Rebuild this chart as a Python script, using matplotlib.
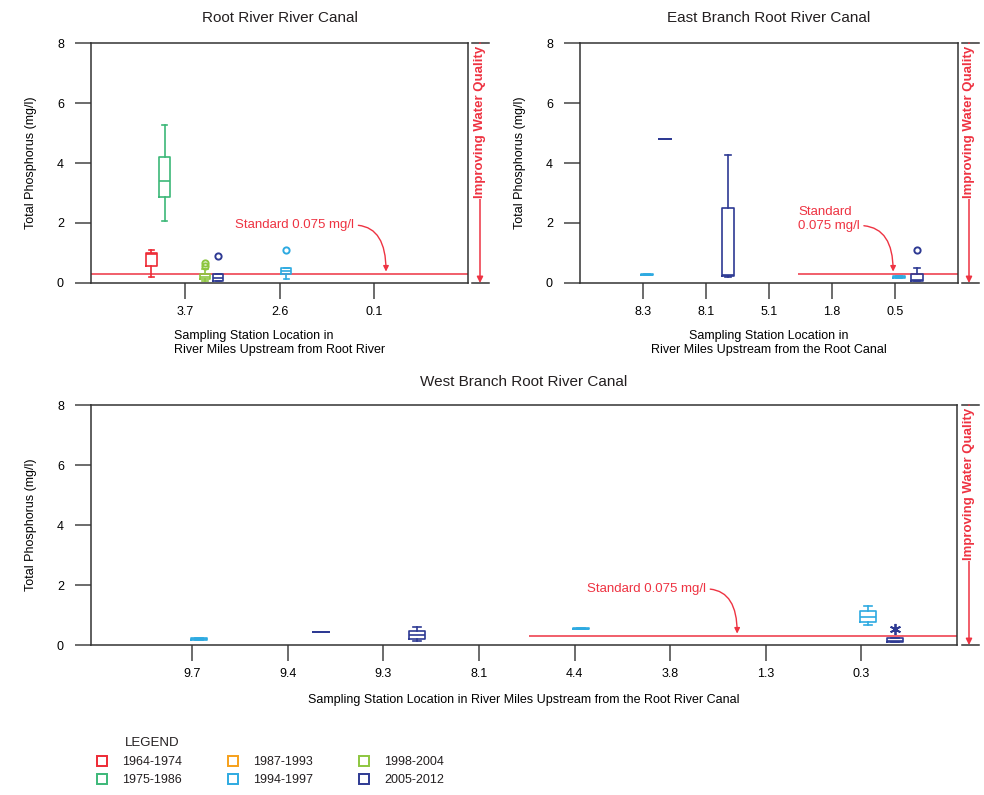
import matplotlib
matplotlib.use("Agg")
import matplotlib.pyplot as plt
from matplotlib.lines import Line2D

plt.rcParams['font.family'] = ['Liberation Sans', 'DejaVu Sans']
plt.rcParams['text.color'] = '#231f20'

# sampling periods and their colours
periods = ['1964-1974', '1975-1986', '1987-1993', '1994-1997', '1998-2004', '2005-2012']
period_colors = ['#ee2a35', '#3cb878', '#f6a01a', '#2eaae1', '#8dc63f', '#2e3a93']

standard_value = 0.3   # drawn position of the 0.075 mg/l standard line

# box rows: (station index, period index, whislo, q1, median, q3, whishi, outliers, far outliers)
rr_stations = ['3.7', '2.6', '0.1']
rr_stats = [
    (0, 0, 0.20, 0.57, 0.95, 1.00, 1.10, [], []),
    (0, 1, 2.07, 2.87, 3.40, 4.20, 5.27, [], []),
    (0, 4, 0.08, 0.12, 0.20, 0.30, 0.45, [0.55, 0.65], []),
    (0, 5, 0.05, 0.07, 0.17, 0.30, 0.30, [0.90], []),
    (1, 3, 0.13, 0.30, 0.40, 0.49, 0.49, [1.10], []),
]

eb_stations = ['8.3', '8.1', '5.1', '1.8', '0.5']
eb_stats = [
    (0, 3, 0.27, 0.27, 0.28, 0.30, 0.30, [], []),
    (0, 5, 4.80, 4.80, 4.80, 4.80, 4.80, [], []),
    (1, 5, 0.20, 0.22, 0.25, 2.50, 4.27, [], []),
    (4, 3, 0.18, 0.18, 0.20, 0.22, 0.22, [], []),
    (4, 5, 0.05, 0.07, 0.10, 0.30, 0.50, [1.10], []),
]

wb_stations = ['9.7', '9.4', '9.3', '8.1', '4.4', '3.8', '1.3', '0.3']
wb_stats = [
    (0, 3, 0.17, 0.18, 0.20, 0.22, 0.24, [], []),
    (1, 5, 0.45, 0.45, 0.45, 0.45, 0.45, [], []),
    (2, 5, 0.13, 0.20, 0.33, 0.47, 0.60, [], []),
    (4, 3, 0.54, 0.54, 0.55, 0.56, 0.56, [], []),
    (7, 3, 0.67, 0.77, 0.95, 1.13, 1.30, [], []),
    (7, 5, 0.10, 0.10, 0.15, 0.23, 0.23, [], [0.55]),
]

slot_offsets = [-0.36, -0.22, -0.07, 0.07, 0.21, 0.35]
red = '#ee3342'
W, H = 984, 795

fig = plt.figure(figsize=(W / 100, H / 100), dpi=100)


def rect(l, t, r, b):
    return [l / W, 1 - b / H, (r - l) / W, (b - t) / H]


ax1 = fig.add_axes(rect(91, 43, 468, 283))
ax2 = fig.add_axes(rect(580, 43, 958, 283))
ax3 = fig.add_axes(rect(91, 405, 957, 645))


def draw_boxes(ax, rows, width):
    for st, p, lo, q1, med, q3, hi, outl, far in rows:
        c = period_colors[p]
        pos = st + 1 + slot_offsets[p]
        stats = [dict(whislo=lo, q1=q1, med=med, q3=q3, whishi=hi, fliers=outl)]
        lp = dict(color=c, linewidth=1.2)
        ax.bxp(stats, positions=[pos], widths=width, manage_ticks=False,
               boxprops=lp, whiskerprops=lp, capprops=lp, medianprops=lp,
               flierprops=dict(marker='o', markersize=4.5, markerfacecolor='none',
                               markeredgecolor=c, markeredgewidth=1.4))
        if far:
            ax.plot([pos] * len(far), far, linestyle='none', marker=(6, 2, 0),
                    markersize=8, color=c, markeredgewidth=1.3)


def style_axes(ax, stations, xlim):
    ax.set_xlim(*xlim)
    ax.set_ylim(0, 8)
    ax.set_yticks([0, 2, 4, 6, 8])
    ax.set_xticks(range(1, len(stations) + 1))
    ax.set_xticklabels(stations)
    for s in ax.spines.values():
        s.set_color('#333333')
        s.set_linewidth(1.1)
    ax.tick_params(axis='both', direction='out', length=11.5, width=1.1,
                   color='#444444', labelsize=9)
    ax.tick_params(axis='x', pad=5)
    ax.tick_params(axis='y', pad=8)
    ax.set_ylabel('Total Phosphorus (mg/l)', fontsize=9, labelpad=14)


def quality_arrow(ax, dx_line=12, dx0=4, dx1=21):
    px = ax.get_position().width * W
    xa, x0, x1 = 1 + dx_line / px, 1 + dx0 / px, 1 + dx1 / px
    for y in (0, 1):
        ax.plot([x0, x1], [y, y], transform=ax.transAxes, color='#333333',
                lw=1.1, clip_on=False)
    ax.annotate('', xy=(xa, 0), xytext=(xa, 1), xycoords='axes fraction',
                arrowprops=dict(arrowstyle='-|>', color=red, lw=1.1, shrinkA=0,
                                shrinkB=0, mutation_scale=9),
                annotation_clip=False)
    ax.text(xa, 0.99, 'Improving Water Quality', rotation=90, ha='center', va='top',
            transform=ax.transAxes, color=red, fontweight='bold', fontsize=9.5,
            bbox=dict(fc='white', ec='none', pad=1))


def standard(ax, x0, x1, text, text_xy, tip_xy, relpos=(1, 0.5)):
    ax.hlines(standard_value, x0, x1, color=red, lw=1.1, zorder=1)
    ax.annotate(text, xy=tip_xy, xytext=text_xy, ha='left', va='center',
                multialignment='left', color=red, fontsize=9.5,
                arrowprops=dict(arrowstyle='-|>', color=red, lw=1.0, relpos=relpos,
                                connectionstyle='angle3,angleA=0,angleB=90',
                                shrinkA=1, shrinkB=0, mutation_scale=8))


# Root River canal
style_axes(ax1, rr_stations, (0, 4))
standard(ax1, 0, 4, 'Standard 0.075 mg/l', (1.53, 1.93), (3.13, 0.38))
draw_boxes(ax1, rr_stats, 0.11)
ax1.set_title('Root River River Canal', fontsize=11, pad=15)
ax1.set_xlabel('Sampling Station Location in\nRiver Miles Upstream from Root River',
               fontsize=9, labelpad=9, multialignment='left')
quality_arrow(ax1)

# East Branch
style_axes(ax2, eb_stations, (0, 6))
standard(ax2, 3.46, 6, 'Standard\n0.075 mg/l', (3.46, 2.13), (4.97, 0.38), relpos=(1, 0.25))
draw_boxes(ax2, eb_stats, 0.19)
ax2.set_title('East Branch Root River Canal', fontsize=11, pad=15)
ax2.set_xlabel('Sampling Station Location in\nRiver Miles Upstream from the Root Canal',
               fontsize=9, labelpad=9)
quality_arrow(ax2, 11, 4, 21)

# West Branch
style_axes(ax3, wb_stations, (-0.06, 9))
standard(ax3, 4.52, 9, 'Standard 0.075 mg/l', (5.13, 1.87), (6.70, 0.38))
draw_boxes(ax3, wb_stats, 0.17)
ax3.set_title('West Branch Root River Canal', fontsize=11, pad=14)
ax3.set_xlabel('Sampling Station Location in River Miles Upstream from the Root River Canal',
               fontsize=9, labelpad=10)
quality_arrow(ax3, 12, 5, 22)

# legend
fig.text(125 / W, 1 - 743 / H, 'LEGEND', fontsize=9.5, va='center', ha='left')
handles = [Line2D([], [], linestyle='none', marker='s', markersize=6.5,
                  markerfacecolor='white', markeredgecolor=c, markeredgewidth=1.4)
           for c in period_colors]
fig.legend(handles, periods, ncol=3, loc='upper left', frameon=False,
           bbox_to_anchor=(95.5 / W, 1 - 756 / H), borderaxespad=0, borderpad=0,
           fontsize=9, handlelength=1.0, handletextpad=1.1, columnspacing=3.6,
           labelspacing=0.5)

fig.savefig('out.png', dpi=100)
